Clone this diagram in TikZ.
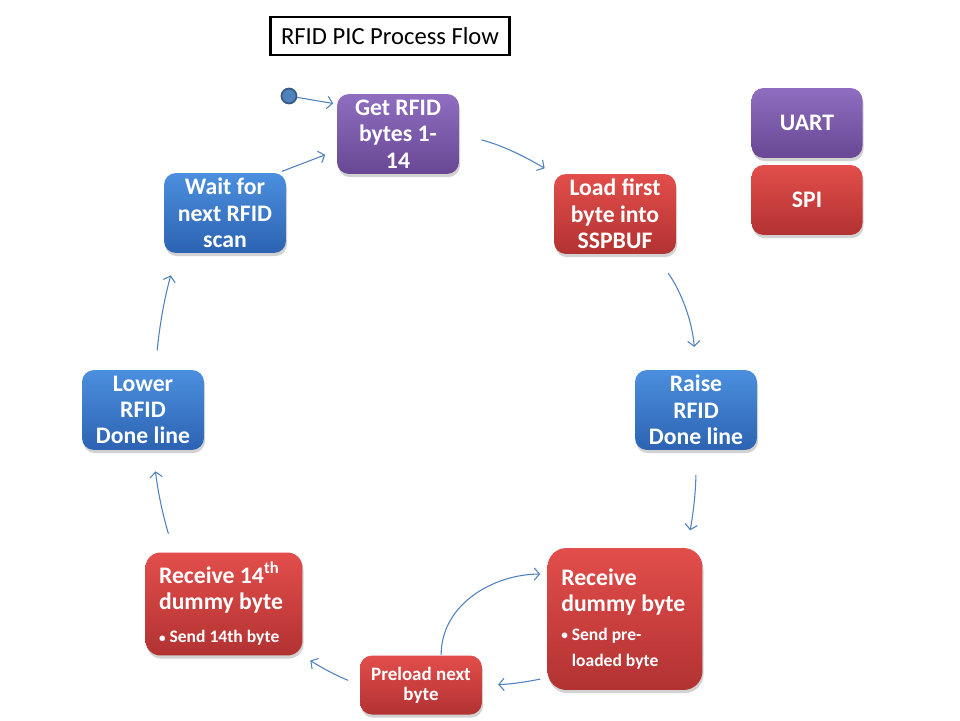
\documentclass[tikz,border=0pt]{standalone}
\usepackage{fontspec}
\setmainfont{Carlito}
\usetikzlibrary{arrows.meta,shadows}
\definecolor{rdt}{HTML}{E24E4B}
\definecolor{rdb}{HTML}{B23232}
\definecolor{put}{HTML}{8F6DC0}
\definecolor{pub}{HTML}{684894}
\definecolor{blt}{HTML}{4B8FDE}
\definecolor{blb}{HTML}{2C63B2}
\definecolor{arx}{HTML}{4F81BD}
\newcommand{\bulx}{{\fontsize{7.5}{7.5}\selectfont\raisebox{0.4pt}{\textbullet}}\ }
\tikzset{
    box/.style={rounded corners=0.24cm,inner sep=2pt,align=center,text=white,
        font=\bfseries\fontsize{13.5}{15}\selectfont,
        minimum width=2.44cm,minimum height=1.6cm,
        drop shadow={opacity=0.35,shadow xshift=0.6pt,shadow yshift=-1.8pt}},
    redbox/.style={box,top color=rdt,bottom color=rdb},
    purbox/.style={box,top color=put,bottom color=pub},
    blubox/.style={box,top color=blt,bottom color=blb},
    flow/.style={arx,line width=0.6pt,-{Straight Barb[length=3pt,width=7pt]}}
}

\begin{document}
\begin{tikzpicture}[x=0.02cm,y=-0.02cm]
            \useasboundingbox [fill=white] (0,0) rectangle (960,720);
            \node [draw=black,line width=1.2pt,fill=white,minimum width=4.78cm,
                minimum height=0.76cm,font=\fontsize{14}{16}\selectfont]
                (title) at (390,36) {RFID PIC Process Flow};
            \node [circle,fill=arx,draw=arx!70!black,line width=1pt,
                minimum size=0.3cm,inner sep=0pt] (dot) at (289,96) {};
            % main cycle
            \node [purbox] (get) at (398,134) {Get RFID\\bytes 1-\\14};
            \node [redbox] (load) at (615,214) {Load first\\byte into\\SSPBUF};
            \node [blubox] (raise) at (696,410) {Raise\\RFID\\Done line};
            \node [redbox,minimum width=3.1cm,minimum height=2.84cm,
                text width=2.55cm,align=flush left,rounded corners=0.38cm]
                (rdum) at (625,619) {Receive\\dummy byte\\[4pt]
                {\fontsize{10}{12}\selectfont\bulx Send pre-\\
                \phantom{\bulx}loaded byte}};
            \node [redbox,minimum width=2.44cm,minimum height=1.18cm,
                font=\bfseries\fontsize{10.8}{11.5}\selectfont]
                (pre) at (421,685) {Preload next\\byte};
            \node [redbox,minimum width=3.14cm,minimum height=2.06cm,
                text width=2.6cm,align=flush left,rounded corners=0.3cm]
                (r14) at (224,604) {Receive 14\textsuperscript{th}\\dummy byte\\[4pt]
                {\fontsize{10}{12}\selectfont\bulx Send 14th byte}};
            \node [blubox] (lower) at (143,410) {Lower\\RFID\\Done line};
            \node [blubox] (wait) at (225,213) {Wait for\\next RFID\\scan};
            % legend
            \node [purbox,minimum width=2.22cm,minimum height=1.4cm] (uart) at (807,123) {UART};
            \node [redbox,minimum width=2.22cm,minimum height=1.4cm] (spi) at (807,200) {SPI};
            % arrows
            \draw [flow,shorten >=2pt] (dot) -- (get.154);
            \draw [flow,shorten <=13pt,shorten >=6pt] (get.east) to [bend left=8] (load.north west);
            \draw [flow,shorten <=13pt,shorten >=13pt] (load.-45) to [bend left=15] (raise.north);
            \draw [flow,shorten <=14pt,shorten >=10pt] (raise.south) to [bend left=5] (rdum.49);
            \draw [flow,shorten <=4pt,shorten >=9pt] (rdum.217) to [bend left=5] (pre.east);
            \draw [flow,shorten <=7pt,shorten >=5pt] (pre.west) to [bend left=5] (r14.south east);
            \draw [flow,shorten <=11pt,shorten >=12pt] (r14.134) to [bend left=5] (lower.-76);
            \draw [flow,shorten <=11pt,shorten >=13pt] (lower.73) to [bend left=5] (wait.220);
            \draw [flow,shorten <=2pt,shorten >=7pt] (wait.37) to (get.195);
            \draw [flow,shorten >=4pt] (pre.56) to [out=90,in=180] (rdum.150);
        \end{tikzpicture}
\end{document}
